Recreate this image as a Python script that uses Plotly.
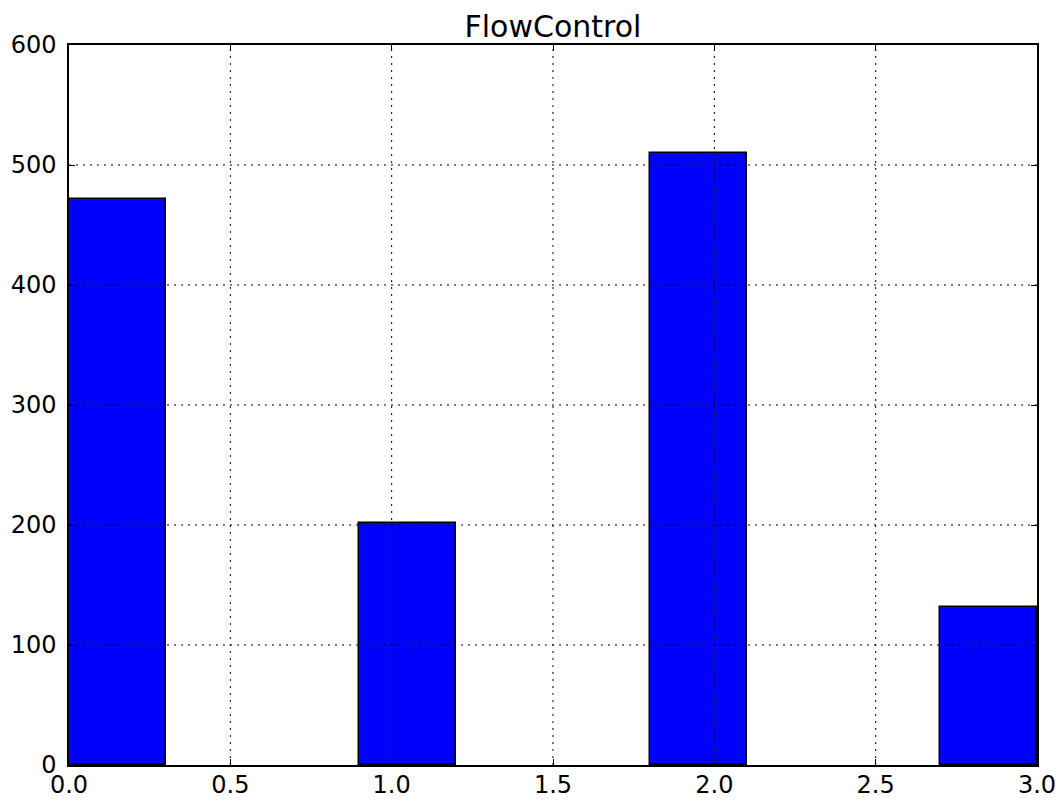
import plotly.graph_objects as go

# Histogram of FlowControl: 10 equal bins over [0, 3]
bin_edges = [0.0, 0.3, 0.6, 0.9, 1.2, 1.5, 1.8, 2.1, 2.4, 2.7, 3.0]
counts = [472, 0, 0, 202, 0, 0, 510, 0, 0, 132]

x_ticks = [0.0, 0.5, 1.0, 1.5, 2.0, 2.5, 3.0]
x_tick_labels = ["0.0", "0.5", "1.0", "1.5", "2.0", "2.5", "3.0"]
y_ticks = [0, 100, 200, 300, 400, 500, 600]
y_tick_labels = ["0", "100", "200", "300", "400", "500", "600"]

centers = [(a + b) / 2 for a, b in zip(bin_edges[:-1], bin_edges[1:])]
widths = [b - a for a, b in zip(bin_edges[:-1], bin_edges[1:])]
# empty bins have no visible outline (their edge lies on the axis)
edge_widths = [1.5 if c > 0 else 0 for c in counts]

fig = go.Figure(
    go.Bar(
        x=centers,
        y=counts,
        width=widths,
        marker=dict(color="#0000ff", line=dict(color="black", width=edge_widths)),
    )
)

# Dotted grid drawn on top of the bars
grid_style = dict(color="black", width=1, dash="2px,5px")
shapes = []
for xv in x_ticks[1:-1]:
    shapes.append(dict(type="line", xref="x", yref="paper", x0=xv, x1=xv, y0=0, y1=1,
                       line=grid_style, layer="above"))
for yv in y_ticks[1:-1]:
    shapes.append(dict(type="line", xref="paper", yref="y", x0=0, x1=1, y0=yv, y1=yv,
                       line=grid_style, layer="above"))

tick_font = dict(family="DejaVu Sans", size=24, color="black")
title_font = dict(family="DejaVu Sans", size=30, color="black")

fig.update_layout(
    width=1060,
    height=800,
    margin=dict(l=69, r=23, t=45, b=35, autoexpand=False),
    paper_bgcolor="white",
    plot_bgcolor="white",
    showlegend=False,
    bargap=0,
    shapes=shapes,
    font=tick_font,
    title=dict(text="FlowControl", x=0.5, xref="paper", xanchor="center",
               y=1, yref="paper", yanchor="bottom", pad=dict(b=8), font=title_font),
)

axis_common = dict(
    showgrid=False,
    zeroline=False,
    showline=True,
    linecolor="black",
    linewidth=1.5,
    mirror="allticks",
    ticks="inside",
    ticklen=6,
    tickcolor="black",
    tickfont=tick_font,
    layer="above traces",
    automargin=False,
)

fig.update_xaxes(range=[0, 3], tickvals=x_ticks, ticktext=x_tick_labels,
                 ticklabelstandoff=-3, **axis_common)
fig.update_yaxes(range=[0, 600], tickvals=y_ticks, ticktext=y_tick_labels,
                 ticklabelstandoff=6, **axis_common)

fig.write_html("out.html")
